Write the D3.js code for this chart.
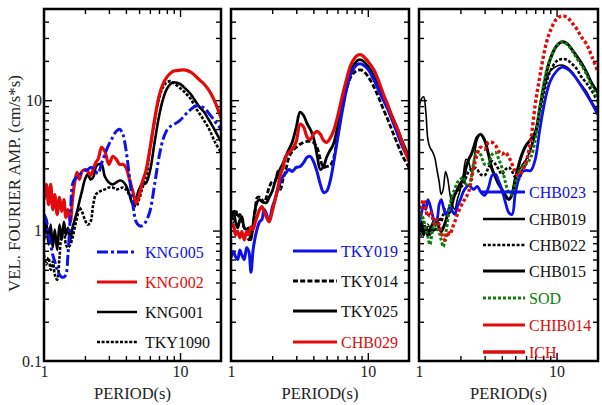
<!DOCTYPE html>
<html><head><meta charset="utf-8">
<script src="https://cdn.jsdelivr.net/npm/d3@7"></script>
<style>
body{margin:0;background:#fff}
text{font-family:"Liberation Serif","Times New Roman",serif}
</style>
</head><body>
<svg id="c" width="602" height="405"></svg>
<script>
// ---------------- DATA ----------------
const periods = [1.00,1.04,1.08,1.12,1.16,1.20, 1.25,1.30,1.35,1.40,1.45,1.50, 1.56,1.62,1.68,1.75,1.82,1.90,
  2.0,2.1,2.2,2.3,2.4,2.5, 2.65,2.8,3.0,3.2,3.4,3.6, 3.8,4.0,4.25,4.5,4.75,5.0,
  5.3,5.6,6.0,6.5,7.0,7.5, 8.0,8.5,9.0,10,11,12, 13,14,15,16.5,18,20];

// Panel 1
const KNG005 = [1.33,1.21,0.93,0.78,0.65,0.58, 0.50,0.46,0.44,0.44,0.46,0.65, 1.26,2.26,2.47,2.56,2.65,2.8,
  2.89,2.94,3.05,3.0,2.84,2.74, 3.28,3.84,4.59,5.2,5.77,5.98, 5.47,4.2,2.56,1.58,1.17,1.09,
  1.09,1.17,1.4,2.26,3.65,5.0, 5.88,6.3,6.5,7.0,7.8,8.5, 9.0,9.0,8.7,7.8,6.9,6.0];
const KNG002 = [1.73,2.26,1.58,2.26,1.45,1.89, 1.33,1.8,1.4,1.73,1.26,1.45, 1.17,1.73,2.34,2.8,2.47,2.84,
  2.94,2.84,2.65,2.94,3.33,3.52, 4.35,4.05,3.22,3.7,3.52,3.22, 3.22,3.05,2.47,2.0,1.61,1.86,
  2.38,2.84,4.2,7.1,10.7,13.3, 15.0,16.1,16.7,17.0,17.0,16.4, 15.3,14.2,13.3,11.7,9.8,7.3];
const KNG001 = [0.85,1.17,0.78,1.11,0.74,1.02, 0.71,1.11,0.85,1.17,0.93,1.05, 0.85,1.05,1.21,1.4,1.67,2.0,
  2.47,2.7,2.47,2.56,3.05,3.22, 3.22,2.6,2.34,2.26,2.34,2.42, 2.38,2.22,1.89,1.58,1.76,2.07,
  2.3,2.3,2.84,4.75,7.5,10.2, 12.2,13.3,13.7,13.3,12.2,11.1, 9.8,8.8,8.1,6.9,5.9,4.8];
const TKY1090 = [0.65,0.55,0.62,0.50,0.58,0.46, 0.42,0.62,0.93,0.98,0.78,0.74, 0.78,0.88,1.05,1.26,1.5,1.4,
  1.21,1.11,1.17,1.58,1.89,1.96, 2.03,2.07,2.14,2.14,2.07,2.1, 2.14,2.07,1.86,1.64,1.53,1.73,
  2.14,2.47,4.2,6.9,10.2,12.6, 13.7,14.0,13.5,12.4,11.3,10.2, 8.8,7.8,7.0,5.9,4.8,3.98];

// Panel 2
const TKY019 = [0.62,0.69,0.63,0.6,0.71,0.65, 0.6,0.74,0.69,0.48,0.71,0.88, 1.05,1.17,1.21,1.45,1.33,1.17,
  1.5,1.73,2.07,2.38,2.6,2.74, 2.94,2.84,3.05,3.1,3.33,3.65, 3.7,3.4,2.84,2.26,1.96,2.0,
  2.38,3.22,5.0,8.2,12.2,15.85, 17.9,18.9,18.9,17.3,14.5,11.9, 10,8.5,7.1,5.5,4.35,3.52];
const TKY014 = [1.33,1.17,1.45,1.26,1.33,1.17, 1.05,0.98,0.85,0.93,1.07,1.4, 1.8,1.8,1.73,1.64,1.83,2.14,
  2.38,2.38,2.84,2.07,2.47,2.84, 3.65,4.05,4.35,4.59,4.75,4.83, 4.83,4.75,4.35,3.52,3.05,3.1,
  3.16,3.52,5.2,8.5,12.2,15.0, 16.4,17.0,17.0,15.3,12.8,10.5, 8.5,7.1,5.9,4.59,3.7,3.05];
const TKY025 = [1.28,1.4,1.17,1.05,1.21,1.28, 1.05,1.02,1.05,0.85,1.11,1.45, 1.67,1.73,1.67,1.64,1.64,1.8,
  2.0,2.38,2.74,3.0,3.28,3.65, 4.2,4.75,6.2,8.1,7.6,6.6, 5.98,5.2,3.84,2.94,3.1,3.65,
  4.13,4.59,6.2,9.6,13.3,16.7, 18.9,20.3,20.3,18.2,15.5,12.8, 10.7,9.0,7.6,6.0,4.75,3.65];
const CHB029 = [1.07,1.11,0.93,0.98,0.88,0.98, 0.85,0.98,0.93,1.07,1.02,1.15, 1.3,1.45,1.53,1.4,1.26,1.17,
  1.4,1.73,2.14,2.7,3.05,3.65, 3.98,4.2,4.83,6.54,6.2,5.2, 5.0,5.47,5.77,5.47,4.92,4.75,
  5.1,5.77,7.4,10.7,14.5,18.6, 21.0,22.2,22.2,19.9,17.3,14.0, 11.1,9.2,7.5,6.0,4.59,3.4];

// Panel 3
const CHB023 = [1.11,1.33,1.58,1.45,1.73,1.58, 1.33,1.17,1.21,1.58,1.73,1.53, 1.33,1.4,1.53,1.4,1.33,1.53,
  1.73,1.99,2.14,2.22,2.14,2.07, 2.18,1.99,1.86,2.14,2.65,2.7, 2.38,2.07,1.64,1.37,1.33,1.89,
  2.47,2.8,2.89,2.89,3.52,5.67, 8.5,11.5,14.0,16.7,17.9,17.3, 16.1,14.5,13.0,11.1,9.5,7.7];
const CHB019 = [8.8,10.2,10.6,8.2,5.0,4.35, 4.05,3.65,2.94,2.38,1.89,2.07, 2.84,2.47,1.89,1.58,1.45,1.73,
  2.07,2.7,3.52,3.33,2.84,3.4, 5.0,5.47,5.0,3.84,3.05,2.56, 2.38,2.07,1.8,1.73,1.99,2.47,
  2.84,3.16,3.52,4.2,5.47,8.3, 11.8,14.5,16.7,18.2,18.6,17.8, 16.4,14.7,13.3,11.6,9.8,8.2];
const CHB022 = [1.05,0.93,1.17,1.02,1.11,0.93, 1.05,0.98,1.11,1.26,1.17,1.33, 1.45,1.4,1.58,1.73,1.89,1.99,
  2.14,2.26,2.56,2.84,2.94,3.05, 2.94,2.7,2.65,3.05,3.4,3.22, 2.94,2.7,2.94,3.05,2.84,2.56,
  2.47,2.84,3.33,4.35,5.47,7.6, 10.6,14.0,16.7,19.9,20.7,20.3, 18.9,17.4,15.3,13.5,11.8,9.7];
const CHB015 = [0.98,1.17,0.93,1.05,0.92,1.02, 1.11,1.21,1.17,1.05,0.98,1.05, 1.17,1.33,1.4,1.64,1.89,2.07,
  2.3,2.47,3.05,3.52,3.84,4.35, 5.2,5.47,4.92,3.84,2.94,2.56, 2.26,2.07,1.86,1.73,1.89,2.47,
  3.16,3.84,4.5,5.0,5.67,8.3, 12.2,16.7,20.7,26,28,27, 24.3,21.8,19.6,16.4,13.5,11.4];
const SOD = [1.17,1.33,1.21,1.02,0.9,0.78, 0.98,1.17,1.05,0.98,0.85,0.75, 0.93,1.21,1.58,1.89,2.07,2.34,
  2.47,2.56,2.26,2.18,2.56,3.33, 4.05,3.84,3.22,3.22,3.84,3.98, 3.52,3.05,2.34,1.96,1.89,2.26,
  2.8,3.05,3.22,3.65,5.0,8.3, 12.6,17.3,20.7,26,28,26.6, 23.9,21,18.9,15.8,12.8,10.2];
const ICH = [1.33,1.53,1.73,1.45,1.28,1.4, 1.26,1.11,1.21,1.11,0.98,0.88, 0.85,0.98,0.93,1.05,1.17,1.33,
  1.5,1.67,1.8,1.99,2.47,3.05, 3.84,4.35,4.2,4.75,4.75,4.5, 4.05,3.84,3.98,3.65,3.22,2.84,
  2.65,2.84,3.33,5.0,9.3,14.5, 21.4,28.4,34.0,42,44.3,42.9, 39,35.2,31,26.9,21.8,16.4];

// Tick values / labels
const xMinorTicks = [2,3,4,5,6,7,8,9];
const xMajorTicks = [10];
const xLabelTicks = [1,10];
const yMinorTicks = [0.2,0.3,0.4,0.5,0.6,0.7,0.8,0.9,2,3,4,5,6,7,8,9,20,30,40];
const yMajorTicks = [1,10];
const yLabelTicks = [0.1,1,10];
const xDomain = [1,20];
const yDomain = [0.1,50];
const xTitle = "PERIOD(s)";
const yTitle = "VEL. FOURIER AMP. (cm/s*s)";

// series per panel (drawing order)
const panel1Names = ["KNG001","TKY1090","KNG002","KNG005"];
const panel1Values = [KNG001,TKY1090,KNG002,KNG005];
const panel2Names = ["TKY014","TKY025","TKY019","CHB029"];
const panel2Values = [TKY014,TKY025,TKY019,CHB029];
const panel3Names = ["CHB019","CHB015","CHB022","CHB023","SOD","ICH"];
const panel3Values = [CHB019,CHB015,CHB022,CHB023,SOD,ICH];

// legend order
const legend1 = ["KNG005","KNG002","KNG001","TKY1090"];
const legend2 = ["TKY019","TKY014","TKY025","CHB029"];
const legend3 = ["CHB023","CHB019","CHB022","CHB015","SOD","CHIB014","ICH"];

// ---------------- STYLES / LAYOUT ----------------
const BLUE="#1010e8", RED="#e20a0a", BLACK="#000", GREEN="#0a800a";
const styles = {
  KNG005:{c:BLUE,w:3,d:"11,3,3,3"},
  KNG002:{c:RED,w:3.2,d:null},
  KNG001:{c:BLACK,w:2.6,d:null},
  TKY1090:{c:BLACK,w:2.6,d:"3,1.6"},
  TKY019:{c:BLUE,w:3,d:null},
  TKY014:{c:BLACK,w:2.8,d:"5,2.2"},
  TKY025:{c:BLACK,w:2.8,d:null},
  CHB029:{c:RED,w:3.2,d:null},
  CHB023:{c:BLUE,w:2.8,d:null},
  CHB019:{c:BLACK,w:1.6,d:null},
  CHB022:{c:BLACK,w:2.6,d:"3,1.8"},
  CHB015:{c:BLACK,w:3,d:null},
  SOD:{c:GREEN,w:3,d:"3,2"},
  CHIB014:{c:RED,w:3.2,d:"3,2.4",ld:null},
  ICH:{c:RED,w:3.4,d:"3.2,2.4",ld:null}
};

const plotTop=9, plotBottom=361;
const panels = [
  {x0:44,x1:221,names:panel1Names,values:panel1Values,legend:legend1,yLabels:true,
   lx0:97,lx1:137,tx:145,ly:[252,282,312,342]},
  {x0:231,x1:409,names:panel2Names,values:panel2Values,legend:legend2,yLabels:false,
   lx0:293,lx1:337,tx:341,ly:[251,281,311,342]},
  {x0:419,x1:598,names:panel3Names,values:panel3Values,legend:legend3,yLabels:false,
   lx0:483,lx1:525,tx:529,ly:[192,219,245,271,298,325,352],firstLx0:480}
];

const svg = d3.select("#c");
svg.append("rect").attr("width",602).attr("height",405).attr("fill","#fff");

panels.forEach((p,pi)=>{
  const x = d3.scaleLog().domain(xDomain).range([p.x0,p.x1]);
  const y = d3.scaleLog().domain(yDomain).range([plotBottom,plotTop]);
  const g = svg.append("g");
  const clipId = "clip"+pi;
  svg.append("defs").append("clipPath").attr("id",clipId)
    .append("rect").attr("x",p.x0).attr("y",plotTop).attr("width",p.x1-p.x0).attr("height",plotBottom-plotTop);

  function tickAxis(axisFn, scale, vals, size, tf){
    const a = g.append("g").attr("transform",tf)
      .call(axisFn(scale).tickValues(vals).tickSize(size).tickFormat(""));
    a.select(".domain").remove();
    a.selectAll("line").attr("stroke","#000").attr("stroke-width",1.4);
  }
  tickAxis(d3.axisBottom,x,xMinorTicks,-5,`translate(0,${plotBottom})`);
  tickAxis(d3.axisBottom,x,xMajorTicks,-8,`translate(0,${plotBottom})`);
  tickAxis(d3.axisTop,x,xMinorTicks,-5,`translate(0,${plotTop})`);
  tickAxis(d3.axisTop,x,xMajorTicks,-8,`translate(0,${plotTop})`);
  tickAxis(d3.axisLeft,y,yMinorTicks,-5,`translate(${p.x0},0)`);
  tickAxis(d3.axisLeft,y,yMajorTicks,-8,`translate(${p.x0},0)`);
  tickAxis(d3.axisRight,y,yMinorTicks,-5,`translate(${p.x1},0)`);
  tickAxis(d3.axisRight,y,yMajorTicks,-8,`translate(${p.x1},0)`);

  // x tick labels
  const xl = g.append("g").attr("transform",`translate(0,${plotBottom})`)
    .call(d3.axisBottom(x).tickValues(xLabelTicks).tickSize(0).tickPadding(5).tickFormat(d3.format("d")));
  xl.select(".domain").remove();
  xl.selectAll("text").attr("font-size",16).attr("font-family","Liberation Serif").attr("fill","#222");

  if(p.yLabels){
    const yl = g.append("g").attr("transform",`translate(${p.x0},0)`)
      .call(d3.axisLeft(y).tickValues(yLabelTicks).tickSize(0).tickPadding(2).tickFormat(d=>d<1?"0.1":String(d)));
    yl.select(".domain").remove();
    yl.selectAll("text").attr("font-size",16).attr("font-family","Liberation Serif").attr("fill","#222");
  }

  // x title
  g.append("text").attr("x",(p.x0+p.x1)/2).attr("y",399).attr("text-anchor","middle")
    .attr("font-size",16.5).attr("fill","#222").text(xTitle);

  // curves
  const line = d3.line().x((d,i)=>x(periods[i])).y(d=>y(d)).curve(d3.curveCatmullRom.alpha(0.5));
  const cg = g.append("g").attr("clip-path",`url(#${clipId})`);
  p.names.forEach((n,i)=>{
    const s = styles[n];
    cg.append("path").datum(p.values[i]).attr("d",line)
      .attr("fill","none").attr("stroke",s.c).attr("stroke-width",s.w)
      .attr("stroke-dasharray",s.d).attr("stroke-linejoin","round");
  });

  // frame
  g.append("rect").attr("x",p.x0).attr("y",plotTop).attr("width",p.x1-p.x0).attr("height",plotBottom-plotTop)
    .attr("fill","none").attr("stroke","#000").attr("stroke-width",2.5);

  // legend
  p.legend.forEach((n,i)=>{
    const s = styles[n];
    const ly = p.ly[i];
    const lx0 = (i===0 && p.firstLx0) ? p.firstLx0 : p.lx0;
    const dash = ("ld" in s) ? s.ld : s.d;
    g.append("line").attr("x1",lx0).attr("x2",p.lx1).attr("y1",ly).attr("y2",ly)
      .attr("stroke",s.c).attr("stroke-width",Math.max(s.w,2.4)).attr("stroke-dasharray",dash);
    g.append("text").attr("x",p.tx).attr("y",ly+5.5).attr("font-size",16)
      .attr("fill",s.c===BLACK?"#111":s.c).text(n);
  });
});

// y title
svg.append("text").attr("transform","translate(14,183.5) rotate(-90)")
  .attr("text-anchor","middle").attr("dy","0.35em").attr("font-size",16.8).attr("fill","#222").text(yTitle);
</script>
</body></html>
